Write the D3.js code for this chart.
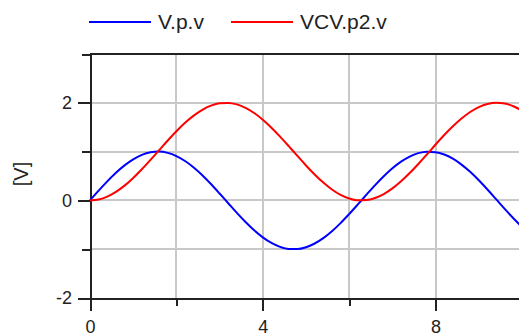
<!DOCTYPE html>
<html>
<head>
<meta charset="utf-8">
<script src="https://cdn.jsdelivr.net/npm/d3@7"></script>
<style>
  body { margin: 0; background: #fff; }
  svg { display: block; font-family: "Liberation Sans", Arial, sans-serif; }
  .axis path, .axis line { stroke: #222; stroke-width: 2; shape-rendering: crispEdges; }
  .axis text { fill: #222; font-size: 18px; }
  .grid line { stroke: #c8c8c8; stroke-width: 2; shape-rendering: crispEdges; }
</style>
</head>
<body>
<svg id="chart"></svg>
<script>
window.addEventListener("load", main);

const WIDTH = 519;
const HEIGHT = 333;

// time samples (s)
const time = [0, 0.2, 0.4, 0.6, 0.8, 1.0, 1.2, 1.4, 1.6, 1.8, 2.0, 2.2, 2.4, 2.6, 2.8,
  3.0, 3.2, 3.4, 3.6, 3.8, 4.0, 4.2, 4.4, 4.6, 4.8, 5.0, 5.2, 5.4, 5.6, 5.8, 6.0,
  6.2, 6.4, 6.6, 6.8, 7.0, 7.2, 7.4, 7.6, 7.8, 8.0, 8.2, 8.4, 8.6, 8.8, 9.0, 9.2,
  9.4, 9.6, 9.8, 10.0];

// V.p.v
const vpv = [0, 0.199, 0.389, 0.565, 0.717, 0.841, 0.932, 0.985, 1.0, 0.974, 0.909,
  0.808, 0.675, 0.516, 0.335, 0.141, -0.058, -0.256, -0.443, -0.612, -0.757, -0.872,
  -0.952, -0.994, -0.996, -0.959, -0.883, -0.773, -0.631, -0.465, -0.279, -0.083,
  0.117, 0.312, 0.494, 0.657, 0.794, 0.899, 0.968, 0.999, 0.989, 0.941, 0.855, 0.734,
  0.585, 0.412, 0.223, 0.025, -0.174, -0.366, -0.544];

// VCV.p2.v
const vcv = [0, 0.020, 0.079, 0.175, 0.303, 0.460, 0.638, 0.830, 1.029, 1.227, 1.416,
  1.589, 1.737, 1.857, 1.942, 1.990, 1.998, 1.967, 1.897, 1.791, 1.654, 1.490, 1.307,
  1.112, 0.913, 0.716, 0.531, 0.365, 0.224, 0.114, 0.040, 0.003, 0.007, 0.050, 0.131,
  0.246, 0.392, 0.561, 0.747, 0.942, 1.146, 1.340, 1.519, 1.677, 1.811, 1.911, 1.975,
  2.000, 1.985, 1.930, 1.839];

const seriesNames = ["V.p.v", "VCV.p2.v"];
const seriesColors = ["#0000ff", "#ff0000"];

const xMajor = [0, 4, 8];
const xMinor = [2, 6, 10];
const yMajor = [-2, 0, 2];
const yMinor = [-1, 1, 3];

function main(){
    var svg = d3.select("#chart")
        .attr("width", WIDTH)
        .attr("height", HEIGHT);

    var x = d3.scaleLinear().domain([0, 10]).range([90, 522]);
    var y = d3.scaleLinear().domain([-2, 3]).range([298, 54]);

    // grid
    var grid = svg.append("g").attr("class", "grid");
    grid.selectAll(".gx")
        .data(xMajor.concat(xMinor).filter(d => d > 0))
        .enter().append("line")
        .attr("x1", d => x(d)).attr("x2", d => x(d))
        .attr("y1", y(3)).attr("y2", y(-2));
    grid.selectAll(".gy")
        .data([-1, 0, 1, 2])
        .enter().append("line")
        .attr("x1", x(0)).attr("x2", WIDTH)
        .attr("y1", d => y(d)).attr("y2", d => y(d));

    // top frame
    svg.append("line")
        .attr("x1", x(0)).attr("x2", WIDTH)
        .attr("y1", y(3)).attr("y2", y(3))
        .attr("stroke", "#222").attr("stroke-width", 2)
        .attr("shape-rendering", "crispEdges");

    var fmt = d => String(d); // plain hyphen, no decimals

    // axes: major ticks with labels, minor ticks without
    svg.append("g").attr("class", "axis")
        .attr("transform", "translate(0," + y(-2) + ")")
        .call(d3.axisBottom(x).tickValues(xMinor).tickSize(8).tickSizeOuter(0).tickFormat(""));
    svg.append("g").attr("class", "axis")
        .attr("transform", "translate(0," + y(-2) + ")")
        .call(d3.axisBottom(x).tickValues(xMajor).tickSize(13).tickSizeOuter(0).tickPadding(9).tickFormat(fmt))
        .selectAll("text").attr("dy", "0.71em");

    svg.append("g").attr("class", "axis")
        .attr("transform", "translate(" + x(0) + ",0)")
        .call(d3.axisLeft(y).tickValues(yMinor).tickSize(8).tickSizeOuter(0).tickFormat(""));
    svg.append("g").attr("class", "axis")
        .attr("transform", "translate(" + x(0) + ",0)")
        .call(d3.axisLeft(y).tickValues(yMajor).tickSize(12).tickSizeOuter(0).tickPadding(6).tickFormat(fmt));

    // y label
    svg.append("text")
        .attr("transform", "translate(28,174) rotate(-90)")
        .attr("text-anchor", "middle")
        .attr("font-size", 20)
        .attr("fill", "#222")
        .text("[V]");

    // curves
    var line = d3.line()
        .x(d => x(d[0]))
        .y(d => y(d[1]))
        .curve(d3.curveMonotoneX);

    [vpv, vcv].forEach((vals, i) => {
        svg.append("path")
            .datum(time.map((t, j) => [t, vals[j]]))
            .attr("d", line)
            .attr("fill", "none")
            .attr("stroke", seriesColors[i])
            .attr("stroke-width", 2);
    });

    // legend
    var legendX = [89, 231];
    var legend = svg.append("g");
    seriesNames.forEach((name, i) => {
        legend.append("line")
            .attr("x1", legendX[i]).attr("x2", legendX[i] + 62)
            .attr("y1", 22).attr("y2", 22)
            .attr("stroke", seriesColors[i])
            .attr("stroke-width", 2);
        legend.append("text")
            .attr("x", legendX[i] + 69)
            .attr("y", 29)
            .attr("font-size", 21)
            .attr("fill", "#222")
            .text(name);
    });
}
</script>
</body>
</html>
